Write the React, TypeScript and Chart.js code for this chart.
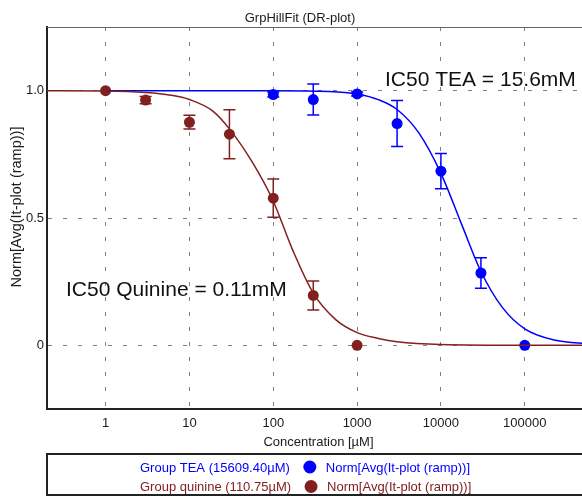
import React, { useEffect, useRef } from "react";
import { Chart, registerables } from "chart.js";

Chart.register(...registerables);

const FONT = "'Liberation Sans', Arial, Helvetica, sans-serif";

const chartTitle = "GrpHillFit (DR-plot)";
const xAxisTitle = "Concentration [µM]";
const yAxisTitle = "Norm[Avg(It-plot (ramp))]";

const xTickValues = [1, 10, 100, 1000, 10000, 100000];
const yTickValues = [0, 0.5, 1];
const yTickLabels = ["0", "0.5", "1.0"];

// measured points (mean ± error)
const teaConc = [100, 300, 1000, 3000, 10000, 30000, 100000];
const teaMean = [0.985, 0.965, 0.987, 0.871, 0.684, 0.284, 0.0];
const teaErr = [0.01, 0.061, 0.008, 0.09, 0.069, 0.06, 0];

const quinineConc = [1, 3, 10, 30, 100, 300, 1000];
const quinineMean = [1.0, 0.963, 0.876, 0.829, 0.578, 0.196, 0.0];
const quinineErr = [0, 0.014, 0.027, 0.096, 0.075, 0.057, 0];

// fitted curves
const teaCurveConc = [1, 100, 464, 1000, 1820, 3000, 5450, 10000, 17900, 30000, 53700, 100000, 232000, 600000];
const teaCurveY = [1.0, 1.0, 0.997, 0.987, 0.964, 0.926, 0.834, 0.675, 0.47, 0.29, 0.15, 0.065, 0.02, 0.006];

const quinineCurveConc = [0.2, 1, 3, 6, 10, 19, 30, 56, 100, 170, 300, 560, 1000, 1800, 3000, 10000, 100000, 600000];
const quinineCurveY = [1.0, 0.999, 0.993, 0.982, 0.965, 0.92, 0.85, 0.72, 0.566, 0.375, 0.205, 0.1, 0.05, 0.027, 0.014, 0.003, 0.0, 0.0];

const teaLegend = "Group TEA (15609.40µM)";
const quinineLegend = "Group quinine (110.75µM)";
const seriesLegend = "Norm[Avg(It-plot (ramp))]";
const teaNote = "IC50 TEA = 15.6mM";
const quinineNote = "IC50 Quinine = 0.11mM";

const BLUE = "#0000ff";
const RED = "#822020";
const TEXT = "#1a1a1a";

const zip = (xs: number[], ys: number[]) => xs.map((x, i) => ({ x, y: ys[i] }));

const decorPlugin = {
  id: "decor",
  beforeDatasetsDraw(chart: any) {
    const { ctx, scales } = chart;
    const x = scales.x;
    const y = scales.y;
    const bars = (conc: number[], mean: number[], err: number[], color: string) => {
      ctx.save();
      ctx.strokeStyle = color;
      ctx.lineWidth = 1.5;
      conc.forEach((c, i) => {
        if (!err[i]) return;
        const px = x.getPixelForValue(c);
        const top = y.getPixelForValue(mean[i] + err[i]);
        const bot = y.getPixelForValue(mean[i] - err[i]);
        ctx.beginPath();
        ctx.moveTo(px, top);
        ctx.lineTo(px, bot);
        ctx.moveTo(px - 6, top);
        ctx.lineTo(px + 6, top);
        ctx.moveTo(px - 6, bot);
        ctx.lineTo(px + 6, bot);
        ctx.stroke();
      });
      ctx.restore();
    };
    bars(quinineConc, quinineMean, quinineErr, RED);
    bars(teaConc, teaMean, teaErr, BLUE);
  },
  afterDraw(chart: any) {
    const { ctx, chartArea } = chart;
    ctx.save();
    // top border
    ctx.strokeStyle = "#666";
    ctx.lineWidth = 1;
    ctx.beginPath();
    ctx.moveTo(chartArea.left, chartArea.top + 0.5);
    ctx.lineTo(chart.width, chartArea.top + 0.5);
    ctx.stroke();

    // title
    ctx.fillStyle = TEXT;
    ctx.font = `13px ${FONT}`;
    ctx.textAlign = "center";
    ctx.textBaseline = "middle";
    ctx.fillText(chartTitle, 300, 18);

    // x axis title
    ctx.fillText(xAxisTitle, (chartArea.left + chartArea.right) / 2, 442);

    // y axis title
    ctx.save();
    ctx.translate(17, 207);
    ctx.rotate(-Math.PI / 2);
    ctx.font = `14.5px ${FONT}`;
    ctx.fillText(yAxisTitle, 0, 0);
    ctx.restore();

    // IC50 notes
    ctx.font = `21px ${FONT}`;
    ctx.textAlign = "left";
    ctx.textBaseline = "alphabetic";
    ctx.fillStyle = "#111";
    ctx.fillText(teaNote, 385, 86);
    ctx.fillText(quinineNote, 66, 296);

    // legend box
    ctx.strokeStyle = "#222";
    ctx.lineWidth = 2;
    ctx.strokeRect(47, 454, chart.width, 41);

    ctx.font = `13px ${FONT}`;
    ctx.textBaseline = "middle";
    const row = (label: string, color: string, yy: number) => {
      const x0 = 140;
      ctx.fillStyle = color;
      ctx.fillText(label, x0, yy);
      const w = ctx.measureText(label).width;
      const cx = x0 + w + 20;
      ctx.beginPath();
      ctx.arc(cx, yy - 1, 6.5, 0, Math.PI * 2);
      ctx.fill();
      ctx.fillText(seriesLegend, cx + 16, yy);
    };
    row(teaLegend, BLUE, 468);
    row(quinineLegend, RED, 487.5);
    ctx.restore();
  },
};

export default function App() {
  const ref = useRef<HTMLCanvasElement>(null);

  useEffect(() => {
    if (!ref.current) return;
    Chart.defaults.font.family = FONT;
    const chart = new Chart(ref.current, {
      type: "line",
      data: {
        datasets: [
          {
            label: "quinine fit",
            data: zip(quinineCurveConc, quinineCurveY),
            borderColor: RED,
            borderWidth: 1.5,
            pointRadius: 0,
            cubicInterpolationMode: "monotone",
            fill: false,
          },
          {
            label: "TEA fit",
            data: zip(teaCurveConc, teaCurveY),
            borderColor: BLUE,
            borderWidth: 1.5,
            pointRadius: 0,
            cubicInterpolationMode: "monotone",
            fill: false,
          },
          {
            label: "quinine",
            data: zip(quinineConc, quinineMean),
            showLine: false,
            pointRadius: 5.5,
            pointBackgroundColor: RED,
            pointBorderWidth: 0,
            borderColor: RED,
          },
          {
            label: "TEA",
            data: zip(teaConc, teaMean),
            showLine: false,
            pointRadius: 5.5,
            pointBackgroundColor: BLUE,
            pointBorderWidth: 0,
            borderColor: BLUE,
          },
        ],
      },
      options: {
        animation: false,
        responsive: false,
        maintainAspectRatio: false,
        parsing: true,
        layout: { padding: { left: 0, top: 27, right: 10, bottom: 0 } },
        plugins: {
          legend: { display: false },
          tooltip: { enabled: false },
          title: { display: false },
        },
        scales: {
          x: {
            type: "logarithmic",
            min: 0.2,
            max: 600000,
            afterBuildTicks: (s: any) => {
              s.ticks = xTickValues.map((v) => ({ value: v }));
            },
            afterFit: (s: any) => {
              s.height = 87;
            },
            ticks: {
              autoSkip: false,
              maxRotation: 0,
              padding: 7,
              color: TEXT,
              font: { size: 13, family: FONT },
              callback: (v: any) => String(v),
            },
            grid: {
              color: "#808080",
              lineWidth: 1,
              drawTicks: false,
            },
            border: { display: true, color: "#222", width: 2, dash: [4, 11] },
          },
          y: {
            type: "linear",
            min: -0.25,
            max: 1.25,
            afterBuildTicks: (s: any) => {
              s.ticks = yTickValues.map((v) => ({ value: v }));
            },
            afterFit: (s: any) => {
              s.width = 47;
            },
            ticks: {
              padding: 3,
              color: TEXT,
              font: { size: 13, family: FONT },
              callback: (v: any) => {
                const i = yTickValues.indexOf(Number(v));
                return i >= 0 ? yTickLabels[i] : "";
              },
            },
            grid: {
              color: "#808080",
              lineWidth: 1,
              drawTicks: false,
            },
            border: { display: true, color: "#222", width: 2, dash: [4, 11] },
          },
        },
      } as any,
      plugins: [decorPlugin],
    });
    return () => chart.destroy();
  }, []);

  return (
    <div
      style={{
        position: "fixed",
        left: 0,
        top: 0,
        width: 582,
        height: 496,
        overflow: "hidden",
        background: "#fff",
      }}
    >
      <canvas ref={ref} width={600} height={496} style={{ display: "block" }} />
    </div>
  );
}
